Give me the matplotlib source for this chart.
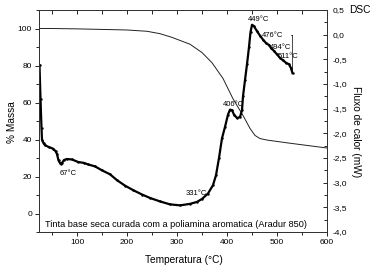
import matplotlib
matplotlib.use("Agg")
import matplotlib.pyplot as plt
from matplotlib.ticker import MultipleLocator, FuncFormatter, NullFormatter

plt.rcParams['font.family'] = ['Liberation Sans', 'DejaVu Sans']

# TGA (% mass) - left axis
tga_temp = [24, 50, 100, 150, 200, 240, 266, 290, 326, 350, 370, 392, 412, 422,
            432, 446, 456, 466, 480, 520, 560, 600]
tga_mass = [100, 100, 99.8, 99.5, 99.2, 98.5, 97.2, 95.2, 91.5, 87, 81.5, 73, 62,
            57.5, 53, 46, 42.2, 40.5, 39.7, 38.2, 36.8, 35.4]

# DSC (heat flow, mW) - right axis
dsc_temp = [25, 27, 29, 30, 33, 36, 44, 52, 57, 60, 63, 67, 70, 74, 80, 90, 102, 114,
            122, 136, 150, 166, 180, 196, 212, 230, 246, 266, 286, 306, 326, 340, 350,
            362, 372, 378, 384, 390, 396, 402, 406, 410, 414, 420, 426, 430, 432, 436,
            440, 444, 447, 450, 454, 460, 466, 472, 478, 484, 488, 494, 500, 506, 512,
            518, 524, 528, 531]
dsc_flow = [-0.62, -1.3, -1.9, -2.13, -2.2, -2.24, -2.28, -2.31, -2.36, -2.42, -2.55,
            -2.62, -2.60, -2.54, -2.52, -2.53, -2.58, -2.60, -2.63, -2.67, -2.75, -2.83,
            -2.95, -3.06, -3.15, -3.24, -3.31, -3.38, -3.44, -3.46, -3.43, -3.39, -3.33,
            -3.22, -3.05, -2.85, -2.50, -2.10, -1.87, -1.62, -1.52, -1.53, -1.62, -1.69,
            -1.67, -1.53, -1.25, -0.92, -0.60, -0.25, 0.05, 0.20, 0.17, 0.07, -0.02,
            -0.10, -0.17, -0.21, -0.27, -0.33, -0.40, -0.47, -0.52, -0.57, -0.60, -0.68,
            -0.78]

# peak labels (text, x, y on DSC axis)
peak_labels = ["67°C", "331°C", "406°C", "449°C", "476°C", "494°C", "511°C"]
peak_x = [66, 318, 392, 441, 470, 486, 502]
peak_y = [-2.82, -3.21, -1.41, 0.30, -0.01, -0.25, -0.45]

# scale bar on DSC axis
bar_x = 530
bar_y = [0.0, -0.78]

fig = plt.figure(figsize=(3.77, 2.70), dpi=100)
ax = fig.add_axes([39/377, 1-232/270, (327-39)/377, (232-10)/270])
ax2 = ax.twinx()

ax.plot(tga_temp, tga_mass, color='#222222', lw=0.7)
ax2.plot(dsc_temp, dsc_flow, color='black', lw=1.6, marker='.', ms=1.5)

ax.set_xlim(24, 600)
ax.set_ylim(-10, 110)
ax2.set_ylim(-4.0, 0.5)

ax.xaxis.set_major_locator(MultipleLocator(100))
ax.xaxis.set_minor_locator(MultipleLocator(50))
ax.yaxis.set_major_locator(MultipleLocator(20))
ax.yaxis.set_minor_locator(MultipleLocator(10))
ax2.yaxis.set_major_locator(MultipleLocator(0.5))
ax2.yaxis.set_minor_locator(MultipleLocator(0.25))
ax2.yaxis.set_major_formatter(FuncFormatter(lambda v, p: f"{v:.1f}".replace('.', ',').replace('-0,0', '0,0')))

ax.tick_params(axis='both', which='both', labelsize=6, width=0.6, pad=2, direction='out')
ax.tick_params(axis='both', which='major', length=3)
ax.tick_params(axis='both', which='minor', length=2)
ax2.tick_params(axis='y', which='both', direction='in', labelsize=6, width=0.6, pad=4)
ax2.tick_params(axis='y', which='major', length=3)
ax2.tick_params(axis='y', which='minor', length=2)

top = ax.secondary_xaxis('top')
top.xaxis.set_major_locator(MultipleLocator(100))
top.xaxis.set_minor_locator(MultipleLocator(50))
top.xaxis.set_major_formatter(NullFormatter())
top.tick_params(axis='x', which='both', direction='in', width=0.6)
top.tick_params(axis='x', which='major', length=3)
top.tick_params(axis='x', which='minor', length=3)

for sp in list(ax.spines.values()) + list(ax2.spines.values()) + list(top.spines.values()):
    sp.set_linewidth(0.7)
    sp.set_color('#333333')

for t, x, y in zip(peak_labels, peak_x, peak_y):
    ax2.text(x, y, t, fontsize=5.5, ha='left', va='center')

ax2.plot([bar_x, bar_x], bar_y, color='black', lw=0.5)
ax2.plot([bar_x - 3, bar_x], [bar_y[0], bar_y[0]], color='black', lw=0.5)

ax.text(36, -6, "Tinta base seca curada com a poliamina aromatica (Aradur 850)",
        fontsize=6.6, ha='left', va='center')

fig.text(184/377, 1-260/270, "Temperatura (°C)", fontsize=7.3, ha='center', va='center')
fig.text(12/377, 1-122/270, "% Massa", fontsize=7.3, rotation=90, ha='center', va='center')
fig.text(356/377, 1-132/270, "Fluxo de calor (mW)", fontsize=7.3, rotation=270,
         ha='center', va='center')
fig.text(349/377, 1-10/270, "DSC", fontsize=7.3, ha='left', va='center')

fig.savefig("out.png", dpi=100)
